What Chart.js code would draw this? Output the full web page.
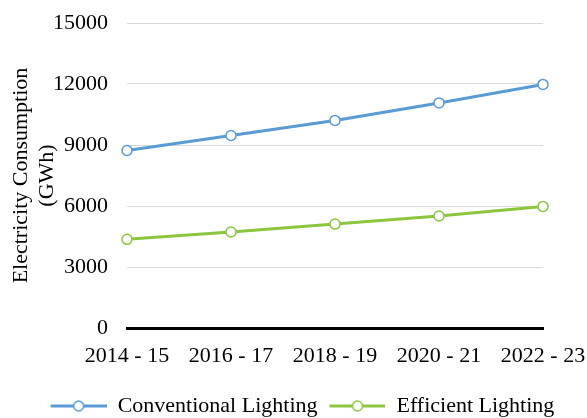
<!DOCTYPE html>
<html>
<head>
<meta charset="utf-8">
<script src="https://cdn.jsdelivr.net/npm/chart.js@4.4.0/dist/chart.umd.min.js"></script>
<style>
  html, body { margin: 0; padding: 0; background: #fff; }
  #wrap { width: 587px; height: 418px; }
</style>
</head>
<body>
<div id="wrap"><canvas id="chart" width="587" height="418"></canvas></div>
<script>
const years = ['2014 - 15', '2016 - 17', '2018 - 19', '2020 - 21', '2022 - 23'];
const conventional = [8730, 9470, 10210, 11070, 11980];
const efficient = [4360, 4720, 5110, 5510, 5980];
const yTicks = [0, 3000, 6000, 9000, 12000, 15000];

const blue = '#5b9bd5';
const green = '#8cc63f';
const font = { family: '"Liberation Serif", "Times New Roman", serif', size: 22 };

// legend marker: line with hollow circle in the middle (transparent gap on the left)
function marker(color) {
    const c = document.createElement('canvas');
    c.width = 66; c.height = 14;
    const g = c.getContext('2d');
    g.strokeStyle = color;
    g.lineWidth = 3;
    g.beginPath(); g.moveTo(10, 7); g.lineTo(66, 7); g.stroke();
    g.fillStyle = '#fff';
    g.lineWidth = 1.5;
    g.beginPath(); g.arc(38, 7, 5, 0, Math.PI * 2); g.fill(); g.stroke();
    return c;
}

const ctx = document.getElementById('chart');
new Chart(ctx, {
    type: 'line',
    data: {
        labels: years,
        datasets: [
            {
                label: 'Conventional Lighting',
                data: conventional,
                borderColor: blue,
                borderWidth: 3,
                pointRadius: 5,
                pointBorderWidth: 1.5,
                pointBackgroundColor: '#fff',
                pointBorderColor: blue,
                tension: 0
            },
            {
                label: 'Efficient Lighting',
                data: efficient,
                borderColor: green,
                borderWidth: 3,
                pointRadius: 5,
                pointBorderWidth: 1.5,
                pointBackgroundColor: '#fff',
                pointBorderColor: green,
                tension: 0
            }
        ]
    },
    options: {
        responsive: false,
        animation: false,
        layout: { padding: { left: 8, right: 0, top: 0, bottom: -9 } },
        plugins: {
            tooltip: { enabled: false },
            legend: {
                position: 'bottom',
                labels: {
                    color: '#000',
                    font: font,
                    usePointStyle: true,
                    pointStyleWidth: 66,
                    padding: 2,
                    generateLabels: chart => chart.data.datasets.map((ds, i) => ({
                        text: ds.label,
                        pointStyle: marker(ds.borderColor),
                        fillStyle: ds.borderColor,
                        strokeStyle: ds.borderColor,
                        lineWidth: 0,
                        hidden: false,
                        datasetIndex: i,
                        fontColor: '#000'
                    }))
                }
            }
        },
        scales: {
            x: {
                offset: false,
                grid: { display: false, drawTicks: false },
                border: { display: true, color: '#000', width: 3 },
                ticks: { color: '#000', font: font, padding: 15, maxRotation: 0, autoSkip: false },
                afterFit: scale => { scale.height = 65; scale.paddingRight = 44; scale.paddingLeft = 0; }
            },
            y: {
                min: 0,
                max: 15000,
                afterBuildTicks: scale => { scale.ticks = yTicks.map(v => ({ value: v })); },
                afterFit: scale => { scale.width = 119; scale.paddingTop = 23; scale.paddingBottom = 0; },
                grid: { color: '#d9d9d9', lineWidth: 1, drawTicks: false },
                border: { display: false },
                ticks: { color: '#000', font: font, padding: 19, callback: v => String(v) },
                title: {
                    display: true,
                    text: ['Electricity Consumption', '(GWh)'],
                    color: '#000',
                    font: font,
                    padding: { top: 0, bottom: 0 }
                }
            }
        }
    }
});
</script>
</body>
</html>
